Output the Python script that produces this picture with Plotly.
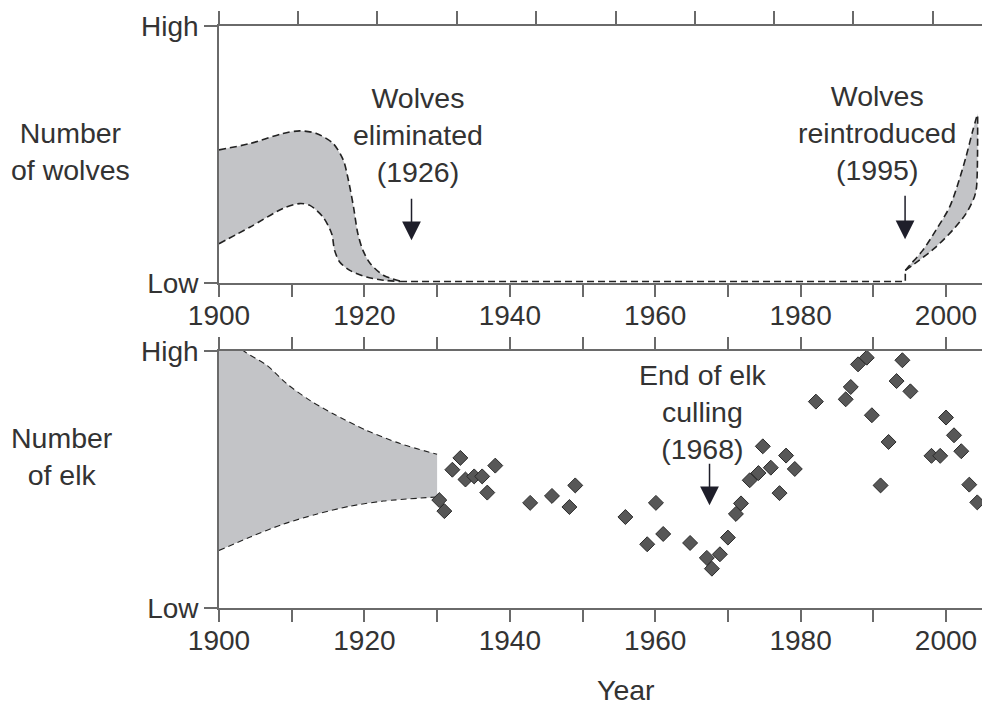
import plotly.graph_objects as go

# ---------------- data ----------------
# Wolves: early population band (upper / lower bounds), relative scale 0 (Low) .. 1 (High)
wolf_early_upper_years = [1900, 1904.3, 1908.8, 1911.1, 1913.4, 1915.7, 1917.1, 1917.8, 1918.5, 1919.1, 1919.8, 1920.8, 1922.6, 1924.9]
wolf_early_upper_vals  = [0.518, 0.543, 0.582, 0.592, 0.582, 0.543, 0.478, 0.400, 0.296, 0.192, 0.127, 0.076, 0.030, 0.008]
wolf_early_lower_years = [1900, 1904.3, 1908.8, 1911.1, 1912.5, 1914.3, 1915.5, 1915.9, 1916.6, 1918.0, 1920.3, 1922.6, 1924.9]
wolf_early_lower_vals  = [0.153, 0.218, 0.290, 0.309, 0.302, 0.257, 0.192, 0.127, 0.082, 0.049, 0.023, 0.011, 0.006]

# Wolves: absent period
wolf_absent_years = [1924.9, 1994.4, 1994.4]
wolf_absent_vals  = [0.006, 0.006, 0.05]

# Wolves: reintroduced band
wolf_reint_lower_years = [1994.4, 1996.3, 1998.6, 2000.9, 2002.75, 2003.9, 2004.2, 2004.35]
wolf_reint_lower_vals  = [0.049, 0.088, 0.140, 0.205, 0.270, 0.335, 0.374, 0.660]
wolf_reint_upper_years = [1994.4, 1995.0, 1996.8, 1998.6, 2000.5, 2001.8, 2002.75, 2003.7, 2004.35]
wolf_reint_upper_vals  = [0.049, 0.069, 0.127, 0.205, 0.296, 0.400, 0.491, 0.595, 0.660]

# Elk: early population band
elk_band_upper_years = [1900, 1903.6, 1906.6, 1909.3, 1912.5, 1915.7, 1920.3, 1924.9, 1930]
elk_band_upper_vals  = [1.08, 0.996, 0.944, 0.873, 0.808, 0.756, 0.691, 0.640, 0.598]
elk_band_lower_years = [1900, 1904.3, 1908.8, 1913.4, 1918.0, 1922.6, 1930]
elk_band_lower_vals  = [0.224, 0.276, 0.326, 0.365, 0.396, 0.416, 0.432]

# Elk: yearly counts (relative)
elk_years = [1930.3, 1931.0, 1932.1, 1933.2, 1933.9, 1935.1, 1936.2, 1936.9, 1938.0,
             1942.8, 1945.8, 1948.2, 1949.0,
             1955.9, 1958.9, 1960.1, 1961.1, 1964.8, 1967.1, 1967.8, 1968.9, 1970.0,
             1971.1, 1971.8, 1973.0, 1974.2, 1974.8, 1975.9, 1977.1, 1978.0, 1979.2,
             1982.1, 1986.2, 1986.9, 1987.9, 1989.1, 1989.8, 1991.0, 1992.1, 1993.2,
             1994.0, 1995.1, 1998.0, 1999.2, 2000.0, 2001.1, 2002.1, 2003.2, 2004.3]
elk_vals  = [0.420, 0.377, 0.538, 0.584, 0.500, 0.512, 0.512, 0.449, 0.554,
             0.409, 0.436, 0.393, 0.477,
             0.354, 0.248, 0.409, 0.288, 0.253, 0.195, 0.153, 0.209, 0.274,
             0.366, 0.407, 0.497, 0.525, 0.629, 0.546, 0.447, 0.593, 0.541,
             0.803, 0.812, 0.860, 0.948, 0.974, 0.750, 0.477, 0.646, 0.883,
             0.964, 0.843, 0.592, 0.592, 0.741, 0.672, 0.610, 0.480, 0.411]

decade_ticks = list(range(1900, 2001, 10))
decade_labels = [str(y) if y % 20 == 0 else "" for y in decade_ticks]
top_axis_ticks = [1900, 1910.9, 1921.8, 1932.7, 1943.66, 1954.56, 1965.45, 1976.36, 1987.26, 1998.16]
level_ticks = [0, 1]
level_labels = ["Low", "High"]

# ---------------- styling ----------------
FONT = "Liberation Sans, Arial, sans-serif"
TXT = "#333333"
AX = "#6a6a6a"
FILL = "#c3c4c7"
DASH_C = "#222222"
XR = [1900, 2004.95]

fig = go.Figure()

def band(xl, yl, xu, yu, xa, ya, width, dash):
    fig.add_trace(go.Scatter(x=xl, y=yl, mode="lines", xaxis=xa, yaxis=ya,
                             line=dict(color=DASH_C, width=width, dash=dash, shape="spline", smoothing=0.8),
                             hoverinfo="skip", showlegend=False))
    fig.add_trace(go.Scatter(x=xu, y=yu, mode="lines", xaxis=xa, yaxis=ya, fill="tonexty",
                             fillcolor=FILL,
                             line=dict(color=DASH_C, width=width, dash=dash, shape="spline", smoothing=0.8),
                             hoverinfo="skip", showlegend=False))

band(wolf_early_lower_years, wolf_early_lower_vals, wolf_early_upper_years, wolf_early_upper_vals,
     "x", "y", 1.6, "7px,4px")
fig.add_trace(go.Scatter(x=wolf_absent_years, y=wolf_absent_vals, mode="lines", xaxis="x", yaxis="y",
                         line=dict(color=DASH_C, width=1.6, dash="7px,4px"),
                         hoverinfo="skip", showlegend=False))
band(wolf_reint_lower_years, wolf_reint_lower_vals, wolf_reint_upper_years, wolf_reint_upper_vals,
     "x", "y", 1.6, "7px,4px")
band(elk_band_lower_years, elk_band_lower_vals, elk_band_upper_years, elk_band_upper_vals,
     "x2", "y2", 1.1, "6px,4px")

fig.add_trace(go.Scatter(x=elk_years, y=elk_vals, mode="markers", xaxis="x2", yaxis="y2",
                         marker=dict(symbol="diamond", size=11.5, color="#575757",
                                     line=dict(color="#2a2a2a", width=1)),
                         cliponaxis=False, hoverinfo="skip", showlegend=False))

# invisible trace so that the top (offset-tick) axis of the wolves panel is drawn
fig.add_trace(go.Scatter(x=top_axis_ticks[:1], y=level_ticks[:1], mode="markers", xaxis="x3", yaxis="y",
                         marker=dict(opacity=0), hoverinfo="skip", showlegend=False))

axis_common = dict(showgrid=False, zeroline=False, showline=True, linecolor=AX, linewidth=1.6,
                   ticks="outside", tickcolor=AX, tickwidth=1.6,
                   tickfont=dict(family=FONT, size=28, color=TXT))

fig.update_layout(
    width=982, height=708,
    margin=dict(l=219, r=0, t=26, b=100),
    paper_bgcolor="white", plot_bgcolor="white",
    font=dict(family=FONT, color=TXT, size=28),
    xaxis=dict(domain=[0, 1], anchor="y", range=XR, tickvals=decade_ticks, ticktext=decade_labels,
               ticklen=12, **axis_common),
    xaxis3=dict(overlaying="x", anchor="y", side="top", range=XR, tickvals=top_axis_ticks,
                showticklabels=False, ticklen=13, **axis_common),
    yaxis=dict(domain=[0.5584, 1], anchor="x", range=[0, 1], tickvals=level_ticks, ticktext=level_labels,
               ticklen=13, **axis_common),
    xaxis2=dict(domain=[0, 1], anchor="y2", range=XR, tickvals=decade_ticks, ticktext=decade_labels,
                ticklen=12, mirror="ticks", **axis_common),
    yaxis2=dict(domain=[0, 0.4416], anchor="x2", range=[0, 1], tickvals=level_ticks, ticktext=level_labels,
                ticklen=13, **axis_common),
)

# pull the year labels a little closer to the axis lines (if supported)
try:
    fig.update_layout(xaxis_ticklabelstandoff=-5, xaxis2_ticklabelstandoff=-5)
except Exception:
    pass

ann_font = dict(family=FONT, size=28.5, color=TXT)
arrow_style = dict(showarrow=True, arrowhead=2, arrowsize=2.5, arrowwidth=1.5, arrowcolor="#1e1e2a")
annotations = [
    dict(text="Wolves<br>eliminated<br>(1926)", x=1927.35, y=0.575, xref="x", yref="y",
         showarrow=False, xanchor="center", yanchor="middle", font=ann_font),
    dict(text="Wolves<br>reintroduced<br>(1995)", x=1990.56, y=0.583, xref="x", yref="y",
         showarrow=False, xanchor="center", yanchor="middle", font=ann_font),
    dict(text="End of elk<br>culling<br>(1968)", x=1966.55, y=0.763, xref="x2", yref="y2",
         showarrow=False, xanchor="center", yanchor="middle", font=ann_font),
    dict(text="", x=1926.48, y=0.166, xref="x", yref="y", ax=0, ay=-43, **arrow_style),
    dict(text="", x=1994.37, y=0.170, xref="x", yref="y", ax=0, ay=-45, **arrow_style),
    dict(text="", x=1967.47, y=0.40, xref="x2", yref="y2", ax=0, ay=-43, **arrow_style),
    dict(text="Number<br>of wolves", x=0, y=0.51, xref="paper", yref="y domain", xshift=-149,
         showarrow=False, xanchor="center", yanchor="middle", font=ann_font),
    dict(text="Number<br>of elk", x=0, y=0.59, xref="paper", yref="y2 domain", xshift=-157,
         showarrow=False, xanchor="center", yanchor="middle", font=ann_font),
    dict(text="Year", x=(626 - 219) / 763, y=-0.141, xref="paper", yref="paper",
         showarrow=False, xanchor="center", yanchor="middle", font=ann_font),
]
fig.update_layout(annotations=annotations)

# remove the default 8px page margin so the 982x708 figure fills the window exactly
fig.write_html("out.html", config={"displayModeBar": False},
               post_script="document.body.style.margin='0';")
